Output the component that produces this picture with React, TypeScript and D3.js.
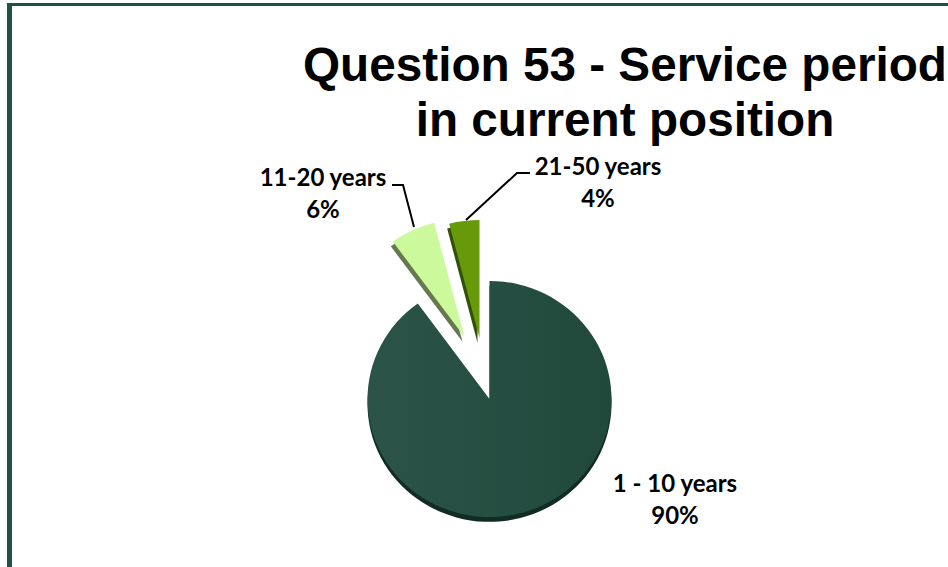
import * as d3 from "d3"
import { useEffect, useRef } from "react"

const categories = ["1 - 10 years", "11-20 years", "21-50 years"]
const shares = [90, 6, 4]
const titleLines = ["Question 53 - Service period", "in current position"]

const width = 948
const height = 567
const cx = 489.5
const cy = 399
const radius = 122
const squash = 118 / 122
const depth = 5

const topColors = ["url(#mainFill)", "#ccf99b", "#669a0b"]
const sideColors = ["#122c25", "#66794e", "#33500a"]
// how far each slice is pulled out of the pie
const pulled = [[0, 0], [-25, -62], [-10, -61]]

// label anchor (centre x, first baseline) and leader line for each slice
const labelPos = [[675, 492], [323, 186], [598, 175]]
const leaders = [
    null,
    [[392, 185], [403, 185], [414, 227]],
    [[530, 173], [517, 173], [466, 220]],
]

export default function App() {
    const ref = useRef<SVGSVGElement | null>(null)

    useEffect(() => {
        const svg = d3.select(ref.current)
        svg.selectAll("*").remove()

        const grad = svg.append("defs").append("linearGradient")
            .attr("id", "mainFill")
            .attr("x1", "0").attr("x2", "1")
            .attr("y1", "0").attr("y2", "0")
        grad.append("stop").attr("offset", "0").attr("stop-color", "#2c5347")
        grad.append("stop").attr("offset", "1").attr("stop-color", "#20493c")

        svg.append("rect").attr("width", width).attr("height", height).attr("fill", "#fff")
        svg.append("rect").attr("x", 7).attr("y", 3).attr("width", 5).attr("height", height - 3).attr("fill", "#235045")
        svg.append("rect").attr("x", 7).attr("y", 3).attr("width", width - 7).attr("height", 3).attr("fill", "#235045")

        const pie = d3.pie<number>().sort(null)
        const arcs = pie(shares)
        const arc = d3.arc<d3.PieArcDatum<number>>().innerRadius(0).outerRadius(radius)

        const slices = svg.append("g")
            .selectAll("g")
            .data(arcs)
            .join("g")
            .attr("transform", (d) => `translate(${cx + pulled[d.index][0]},${cy + pulled[d.index][1]}) scale(1,${squash})`)

        slices.append("path")
            .attr("d", arc)
            .attr("transform", (d) => `translate(${d.index === 0 ? 0 : -2},${depth})`)
            .attr("fill", (d) => sideColors[d.index])

        slices.append("path")
            .attr("d", arc)
            .attr("fill", (d) => topColors[d.index])

        const line = d3.line()
        svg.append("g")
            .selectAll("path")
            .data(leaders.filter(Boolean) as [number, number][][])
            .join("path")
            .attr("d", (d) => line(d))
            .attr("fill", "none")
            .attr("stroke", "#000")
            .attr("stroke-width", 2)

        const labels = svg.append("g")
            .attr("font-family", "Lato")
            .attr("font-weight", 700)
            .attr("font-size", 24)
            .attr("text-anchor", "middle")
            .attr("fill", "#000")
            .selectAll("text")
            .data(categories)
            .join("text")
            .attr("x", (_, i) => labelPos[i][0])
            .attr("y", (_, i) => labelPos[i][1])
        labels.append("tspan").text((d) => d)
        labels.append("tspan")
            .attr("x", (_, i) => labelPos[i][0])
            .attr("dy", 32)
            .text((_, i) => `${shares[i]}%`)

        svg.append("g")
            .attr("font-family", "Liberation Sans")
            .attr("font-weight", 700)
            .attr("font-size", 47.7)
            .attr("text-anchor", "middle")
            .selectAll("text")
            .data(titleLines)
            .join("text")
            .attr("x", 625)
            .attr("y", (_, i) => 81 + i * 55)
            .text((d) => d)
    }, [])

    return (
        <svg
            ref={ref}
            width={width}
            height={height}
            style={{ position: "absolute", left: 0, top: 0 }}
        />
    )
}
